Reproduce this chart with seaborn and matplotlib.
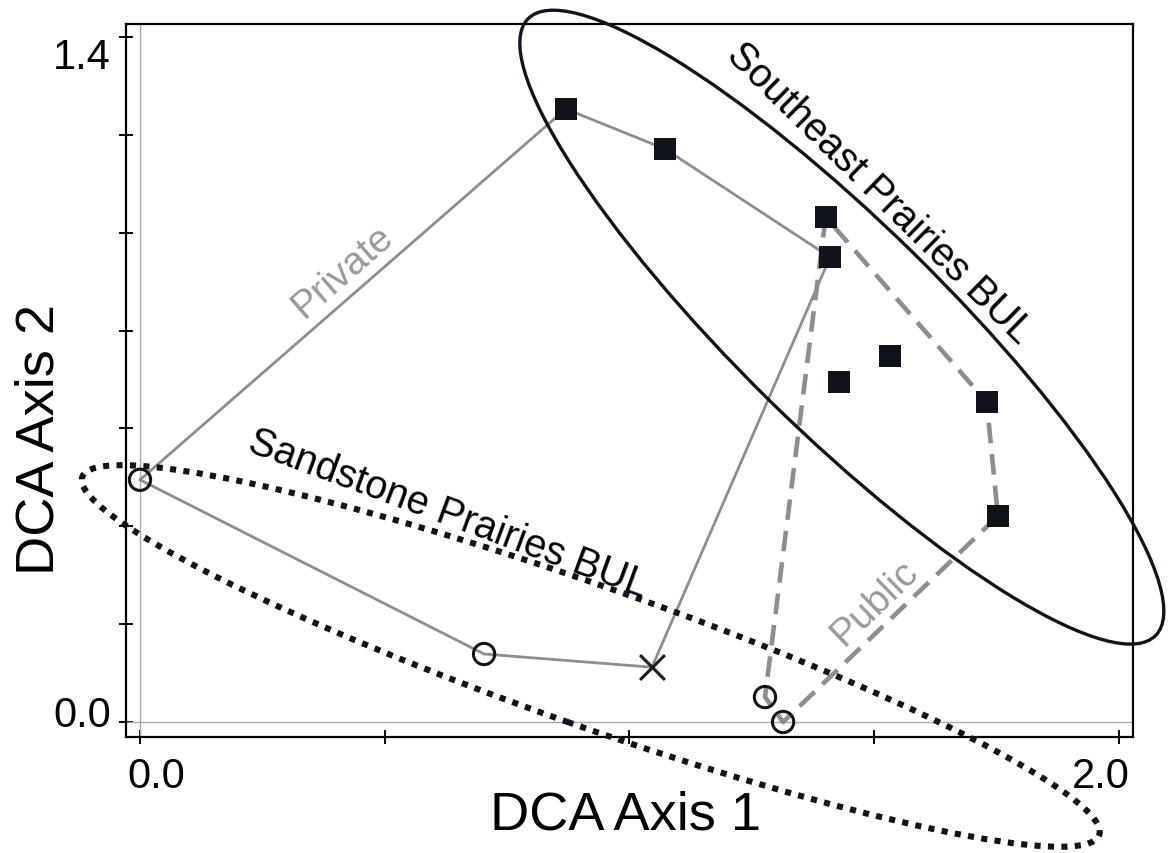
import matplotlib
matplotlib.use("Agg")
import matplotlib.pyplot as plt
from matplotlib.patches import Ellipse
import seaborn as sns
import pandas as pd

# site scores on the first two DCA axes
southeast_x = [0.870, 1.073, 1.401, 1.410, 1.532, 1.428, 1.730, 1.753]
southeast_y = [1.253, 1.171, 1.032, 0.950, 0.748, 0.695, 0.654, 0.421]
sandstone_x = [0.000, 0.703, 1.277, 1.314]
sandstone_y = [0.495, 0.139, 0.051, 0.000]
other_x = [1.046]
other_y = [0.112]

# hull outlines (closed)
private_x = [0.000, 0.870, 1.073, 1.410, 1.046, 0.703, 0.000]
private_y = [0.495, 1.253, 1.171, 0.950, 0.112, 0.139, 0.495]
public_x = [1.401, 1.277, 1.314, 1.753, 1.730, 1.401]
public_y = [1.032, 0.051, 0.000, 0.421, 0.654, 1.032]

# group ellipses: centre x, centre y, width, height, angle
southeast_ell = (1.434, 0.807, 1.798, 0.421, -44.5)
sandstone_ell = (0.921, 0.135, 2.203, 0.286, -19.4)

sns.set_style("ticks")
plt.rcParams["font.family"] = ["Liberation Sans", "DejaVu Sans"]
plt.rcParams["text.color"] = "black"
plt.rcParams["axes.labelcolor"] = "black"
plt.rcParams["xtick.color"] = "black"
plt.rcParams["ytick.color"] = "black"

fig = plt.figure(figsize=(11.7, 8.54), dpi=100)
ax = fig.add_axes([0.1077, 0.1358, 0.8607, 0.8349])

ax.axhline(0, color="#a8a8a8", lw=1, zorder=1)
ax.axvline(0, color="#a8a8a8", lw=1, zorder=1)

gray = "#8e8e8e"
sns.lineplot(x=private_x, y=private_y, sort=False, estimator=None, color=gray,
             lw=2.0, ax=ax, zorder=2)
sns.lineplot(x=public_x, y=public_y, sort=False, estimator=None, color=gray,
             lw=3.3, linestyle=(0, (4.5, 2.4)), ax=ax, zorder=2)

for cx, cy, w, h, ang in [southeast_ell]:
    ax.add_patch(Ellipse((cx, cy), w, h, angle=ang, fill=False, ec="#12141c",
                         lw=2.4, clip_on=False, zorder=3))
for cx, cy, w, h, ang in [sandstone_ell]:
    ax.add_patch(Ellipse((cx, cy), w, h, angle=ang, fill=False, ec="#12141c",
                         lw=4.4, linestyle=(0, (1, 1.2)), clip_on=False, zorder=3))

sns.scatterplot(x=southeast_x, y=southeast_y, marker="s", s=250, color="#11131a",
                edgecolor="#11131a", linewidth=0, ax=ax, zorder=5)
sns.scatterplot(x=sandstone_x, y=sandstone_y, marker="o", s=235, color="#11131a",
                facecolors="none", edgecolor="#11131a", linewidth=2.2, ax=ax, zorder=5)
sns.scatterplot(x=other_x, y=other_y, marker="x", s=320, color="#1c1c24",
                linewidth=2.2, ax=ax, zorder=5)

ax.text(0.415, 0.922, "Private", rotation=41, rotation_mode="anchor",
        ha="center", va="center", fontsize=28, color="#9a9a9a")
ax.text(1.502, 0.245, "Public", rotation=44, rotation_mode="anchor",
        ha="center", va="center", fontsize=28, color="#9a9a9a")
ax.text(0.630, 0.428, "Sandstone Prairies BUL", rotation=-20.3, rotation_mode="anchor",
        ha="center", va="center", fontsize=28.5, color="black")
ax.text(1.512, 1.083, "Southeast Prairies BUL", rotation=-44.5, rotation_mode="anchor",
        ha="center", va="center", fontsize=28.5, color="black")

ax.set_xlim(-0.0286, 2.029)
ax.set_ylim(-0.0307, 1.4265)

ax.set_xticks([0.0327, 1.963])
ax.set_xticklabels(["0.0", "2.0"])
ax.set_yticks([0.0225, 1.369])
ax.set_yticklabels(["0.0", "1.4"])
ax.set_xticks([0, 0.5, 1.0, 1.5, 2.0], minor=True)
ax.set_yticks([0, 0.2, 0.4, 0.6, 0.8, 1.0, 1.2, 1.4], minor=True)
ax.tick_params(which="major", length=0, labelsize=30, labelcolor="black")
ax.tick_params(axis="x", which="major", pad=14)
ax.tick_params(axis="y", which="major", pad=11)
ax.tick_params(which="minor", direction="inout", length=10, width=1.4, color="black")

for sp in ax.spines.values():
    sp.set_visible(True)
    sp.set_linewidth(1.6)
    sp.set_color("black")

ax.set_xlabel("DCA Axis 1", fontsize=39, color="black")
ax.set_ylabel("DCA Axis 2", fontsize=39, color="black")
ax.xaxis.set_label_coords(0.4965, -0.073)
ax.yaxis.set_label_coords(-0.061, 0.418)

fig.savefig("out.png", dpi=100)
